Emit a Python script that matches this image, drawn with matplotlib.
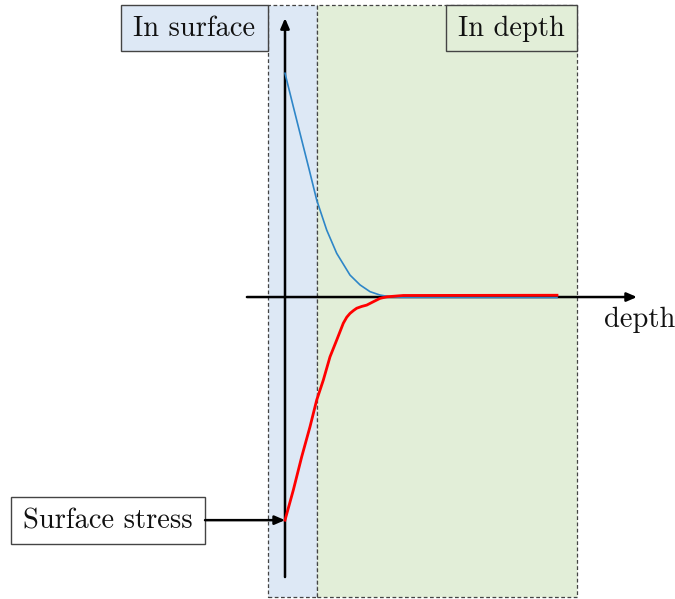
import matplotlib
matplotlib.use("Agg")
import matplotlib.pyplot as plt
from matplotlib.patches import Rectangle, FancyArrowPatch

# Normalised stress profiles against depth
depth_tension = [0.0, 0.305, 0.614, 0.893, 1.165, 1.533, 1.901, 2.39, 2.76, 3.125, 3.49, 3.86, 4.23, 10.0]
stress_tension = [0.999, 0.850, 0.701, 0.567, 0.433, 0.299, 0.195, 0.098, 0.054, 0.024, 0.009, 0.001, -0.001, -0.002]

depth_compression = [0.0, 0.305, 0.614, 0.919, 1.165, 1.408, 1.654, 1.901, 2.143, 2.27, 2.39, 2.52, 2.636,
                     2.82, 3.004, 3.246, 3.493, 3.739, 4.35, 10.0]
stress_compression = [-0.996, -0.862, -0.713, -0.579, -0.460, -0.371, -0.267, -0.192, -0.117, -0.090, -0.073,
                      -0.060, -0.050, -0.042, -0.036, -0.021, -0.006, 0.001, 0.007, 0.008]

surface_zone = (-0.625, 1.176)
depth_zone = (1.176, 10.735)
zone_stress = (-1.339, 1.304)

fig = plt.figure(figsize=(6.75, 5.99), dpi=100)
ax = fig.add_axes([0, 0, 1, 1])
ax.set_xlim(-10.478, 14.338)
ax.set_ylim(-1.348, 1.326)
ax.axis("off")

blue_fill = "#dde8f5"
green_fill = "#e2eed8"
edge = "#444444"
font = dict(family="cmr10", size=20.5, color="#111111")
arrow_style = "-|>,head_length=6,head_width=2.6"

# Zones
for (x0, x1), fill in ((surface_zone, blue_fill), (depth_zone, green_fill)):
    ax.add_patch(Rectangle((x0, zone_stress[0]), x1 - x0, zone_stress[1] - zone_stress[0],
                           facecolor=fill, edgecolor=edge, linestyle=(0, (3, 2)),
                           linewidth=0.9, zorder=1))

# Zone labels
ax.add_patch(Rectangle((-6.03, 1.098), 6.03 - 0.625, 0.206, facecolor=blue_fill,
                       edgecolor=edge, linewidth=1.0, zorder=3))
ax.text((-6.03 - 0.625) / 2, 1.198, "In surface", ha="center", va="center", zorder=4, **font)
ax.add_patch(Rectangle((5.92, 1.098), 10.735 - 5.92, 0.206, facecolor=green_fill,
                       edgecolor=edge, linewidth=1.0, zorder=3))
ax.text((5.92 + 10.735) / 2, 1.198, "In depth", ha="center", va="center", zorder=4, **font)

# Axes arrows
ax.add_patch(FancyArrowPatch((0, -1.25), (0, 1.245), arrowstyle=arrow_style,
                             color="black", linewidth=1.8, zorder=5, shrinkA=0, shrinkB=0))
ax.add_patch(FancyArrowPatch((-1.40, 0), (12.94, 0), arrowstyle=arrow_style,
                             color="black", linewidth=1.8, zorder=5, shrinkA=0, shrinkB=0))
ax.text(13.05, -0.103, "depth", ha="center", va="center", **font)

# Stress curves
ax.plot(depth_tension, stress_tension, color="#2e86c8", linewidth=1.2, zorder=6,
        solid_joinstyle="round")
ax.plot(depth_compression, stress_compression, color="#ff0000", linewidth=2.0, zorder=7,
        solid_joinstyle="round")

# Surface stress callout
ax.add_patch(Rectangle((-10.07, -1.103), 10.07 - 2.94, 0.21, facecolor="white",
                       edgecolor=edge, linewidth=1.0, zorder=3))
ax.text((-10.07 - 2.94) / 2, -1.0, "Surface stress", ha="center", va="center", zorder=4, **font)
ax.add_patch(FancyArrowPatch((-2.94, stress_compression[0]), (depth_compression[0], stress_compression[0]),
                             arrowstyle=arrow_style, color="black",
                             linewidth=1.8, zorder=8, shrinkA=0, shrinkB=0))

fig.savefig("out.png", dpi=100)
